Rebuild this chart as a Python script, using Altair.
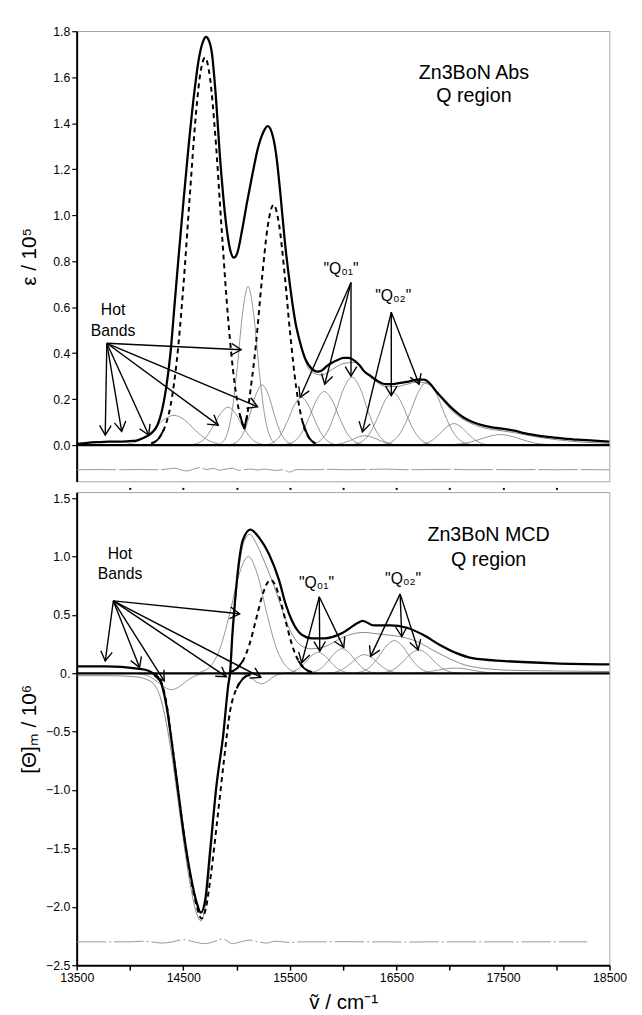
import math
import altair as alt
import pandas as pd

# ---------------- axes / layout values ----------------
X_DOMAIN = [13500, 18500]
ABS_Y_DOMAIN = [-0.158, 1.8]
MCD_Y_DOMAIN = [-2.5, 1.55]
PLOT_W = 542
ABS_H = 458
MCD_H = 481
X_TICKS = [13500, 14000, 14500, 15000, 15500, 16000, 16500, 17000, 17500, 18000, 18500]
TOP_X_TICKS = [14000, 14500, 15000, 15500, 16000, 16500, 17000, 17500, 18000]
ABS_Y_TICKS = [0.0, 0.2, 0.4, 0.6, 0.8, 1.0, 1.2, 1.4, 1.6, 1.8]
MCD_Y_TICKS = [-2.5, -2.0, -1.5, -1.0, -0.5, 0.0, 0.5, 1.0, 1.5]

# ---------------- Absorption panel data ----------------
ABS_SPEC_X = [13500, 13600, 13700, 13800, 13900, 14000, 14060, 14120, 14180, 14220, 14260, 14300, 14340,
              14380, 14420, 14460, 14500, 14550, 14600, 14650, 14690, 14713, 14740, 14770, 14800, 14850,
              14900, 14940, 14975, 15010, 15050, 15100, 15150, 15200, 15250, 15292, 15330, 15370, 15410,
              15450, 15500, 15550, 15600, 15650, 15700, 15760, 15800, 15850, 15900, 15950, 16000, 16050,
              16100, 16150, 16200, 16260, 16320, 16400, 16460, 16520, 16600, 16700, 16760, 16820, 16880,
              16940, 17000, 17060, 17130, 17220, 17320, 17430, 17550, 17620, 17700, 17800, 17900, 18050,
              18200, 18350, 18500]
ABS_SPEC_Y = [0.005, 0.01, 0.013, 0.015, 0.015, 0.018, 0.02, 0.03, 0.045, 0.06, 0.09, 0.15, 0.25,
              0.40, 0.62, 0.84, 1.05, 1.30, 1.52, 1.69, 1.76, 1.775, 1.76, 1.70, 1.55, 1.22,
              0.97, 0.85, 0.815, 0.84, 0.93, 1.06, 1.18, 1.29, 1.36, 1.387, 1.36, 1.27, 1.10,
              0.90, 0.70, 0.54, 0.44, 0.37, 0.335, 0.32, 0.325, 0.345, 0.36, 0.37, 0.38, 0.38,
              0.37, 0.35, 0.32, 0.30, 0.28, 0.265, 0.265, 0.27, 0.275, 0.285, 0.285, 0.265, 0.23,
              0.20, 0.17, 0.145, 0.12, 0.10, 0.085, 0.075, 0.068, 0.062, 0.052, 0.044, 0.037, 0.03,
              0.024, 0.02, 0.015]

ABS_FIT_X = [15600, 15700, 15800, 15900, 16000, 16100, 16200, 16300, 16400, 16500, 16600, 16700, 16800,
             16900, 17000, 17100, 17200, 17300, 17400, 17500, 17600, 17700, 17800, 17900, 18000, 18100,
             18200, 18300, 18400, 18500]
ABS_FIT_Y = [0.43, 0.32, 0.305, 0.33, 0.355, 0.36, 0.32, 0.28, 0.255, 0.255, 0.265, 0.275, 0.265,
             0.215, 0.16, 0.12, 0.095, 0.078, 0.068, 0.062, 0.055, 0.046, 0.037, 0.03, 0.024, 0.019,
             0.015, 0.012, 0.01, 0.008]

ABS_DASH1_X = [14200, 14260, 14320, 14380, 14440, 14500, 14560, 14620, 14660, 14704, 14750, 14800, 14860,
               14920, 14980, 15030, 15072]
ABS_DASH1_Y = [0.008, 0.024, 0.07, 0.17, 0.37, 0.685, 1.075, 1.446, 1.615, 1.685, 1.60, 1.35, 0.94,
               0.555, 0.275, 0.134, 0.07]
ABS_DASH2_X = [15072, 15100, 15120, 15180, 15240, 15290, 15347, 15400, 15450, 15500, 15560, 15620, 15680,
               15740]
ABS_DASH2_Y = [0.07, 0.13, 0.2, 0.43, 0.73, 0.944, 1.045, 0.956, 0.75, 0.50, 0.25, 0.10, 0.032, 0.008]

ABS_A_X = [13906, 14007, 14109, 14214, 14312, 14413, 14514, 14612, 14717, 14819, 14920]
ABS_A_Y = [0.001, 0.007, 0.026, 0.065, 0.109, 0.13, 0.109, 0.065, 0.026, 0.007, 0.001]
ABS_B_X = [14569, 14639, 14709, 14782, 14850, 14920, 14990, 15058, 15131, 15201, 15271]
ABS_B_Y = [0.002, 0.009, 0.033, 0.083, 0.138, 0.165, 0.138, 0.083, 0.033, 0.009, 0.002]
ABS_C_X = [14853, 14904, 14955, 15008, 15057, 15108, 15159, 15208, 15261, 15312, 15363]
ABS_C_Y = [0.008, 0.039, 0.138, 0.345, 0.576, 0.69, 0.576, 0.345, 0.138, 0.039, 0.008]
ABS_D_X = [14946, 15005, 15064, 15124, 15181, 15240, 15299, 15356, 15416, 15475, 15534]
ABS_D_Y = [0.003, 0.015, 0.052, 0.131, 0.219, 0.262, 0.219, 0.131, 0.052, 0.015, 0.003]
ABS_E_X = [15278, 15344, 15410, 15478, 15542, 15608, 15674, 15738, 15806, 15872, 15938]
ABS_E_Y = [0.002, 0.012, 0.042, 0.104, 0.174, 0.208, 0.174, 0.104, 0.042, 0.012, 0.002]
ABS_F_X = [15454, 15528, 15602, 15678, 15749, 15823, 15897, 15968, 16044, 16118, 16192]
ABS_F_Y = [0.003, 0.013, 0.047, 0.117, 0.195, 0.233, 0.195, 0.117, 0.047, 0.013, 0.003]
ABS_G_X = [15699, 15776, 15853, 15932, 16006, 16083, 16160, 16234, 16313, 16390, 16467]
ABS_G_Y = [0.003, 0.017, 0.059, 0.148, 0.247, 0.296, 0.247, 0.148, 0.059, 0.017, 0.003]
ABS_H_X = [15845, 15917, 15989, 16063, 16133, 16205, 16277, 16347, 16421, 16493, 16565]
ABS_H_Y = [0.0005, 0.002, 0.008, 0.02, 0.034, 0.041, 0.034, 0.02, 0.008, 0.002, 0.0005]
ABS_I_X = [16093, 16167, 16242, 16319, 16391, 16465, 16539, 16611, 16688, 16763, 16837]
ABS_I_Y = [0.003, 0.013, 0.046, 0.115, 0.192, 0.23, 0.192, 0.115, 0.046, 0.013, 0.003]
ABS_J_X = [16376, 16458, 16540, 16625, 16705, 16787, 16869, 16949, 17034, 17116, 17198]
ABS_J_Y = [0.003, 0.015, 0.055, 0.138, 0.23, 0.275, 0.23, 0.138, 0.055, 0.015, 0.003]
ABS_K_X = [16688, 16758, 16828, 16901, 16969, 17039, 17109, 17177, 17250, 17320, 17390]
ABS_K_Y = [0.001, 0.005, 0.019, 0.047, 0.078, 0.094, 0.078, 0.047, 0.019, 0.005, 0.001]
ABS_L_X = [16937, 17045, 17153, 17265, 17369, 17477, 17585, 17689, 17801, 17909, 18017]
ABS_L_Y = [0.0005, 0.003, 0.009, 0.023, 0.038, 0.046, 0.038, 0.023, 0.009, 0.003, 0.0005]

ABS_RES_X = [13500, 13700, 13900, 14100, 14250, 14350, 14420, 14480, 14540, 14600, 14660, 14720, 14780,
             14840, 14900, 14960, 15020, 15080, 15140, 15200, 15260, 15320, 15380, 15440, 15500, 15560,
             15700, 15800, 15900, 16000, 16200, 16400, 16600, 16800, 17000, 17200, 17400, 17600, 17800,
             18000, 18200, 18400, 18500]
ABS_RES_Y = [-0.107, -0.106, -0.107, -0.106, -0.107, -0.104, -0.100, -0.108, -0.112, -0.103, -0.098,
             -0.106, -0.101, -0.109, -0.104, -0.100, -0.109, -0.106, -0.104, -0.108, -0.104, -0.107,
             -0.110, -0.106, -0.117, -0.106, -0.107, -0.106, -0.105, -0.107, -0.106, -0.104, -0.107,
             -0.106, -0.105, -0.107, -0.106, -0.107, -0.106, -0.107, -0.106, -0.107, -0.107]

# arrows (start point, end points)
ABS_HOT_START = (13783, 0.443)
ABS_HOT_END_X = [13768, 13922, 14176, 14828, 15197, 15043]
ABS_HOT_END_Y = [0.044, 0.06, 0.044, 0.087, 0.167, 0.415]
ABS_Q01_START = (16074, 0.707)
ABS_Q01_END_X = [15597, 15827, 16074]
ABS_Q01_END_Y = [0.208, 0.265, 0.30]
ABS_Q02_START = (16452, 0.578)
ABS_Q02_END_X = [16181, 16452, 16713]
ABS_Q02_END_Y = [0.058, 0.215, 0.265]

ABS_TEXT = ["Hot", "Bands", "\"Q\u2080\u2081\"", "\"Q\u2080\u2082\"", "Zn3BoN Abs", "Q region"]
ABS_TEXT_X = [13841, 13841, 15981, 16470, 17227, 17227]
ABS_TEXT_Y = [0.586, 0.496, 0.765, 0.65, 1.62, 1.52]
ABS_TEXT_SIZE = [16, 16, 16, 16, 20, 20]

# ---------------- MCD panel data ----------------
MCD_SPEC_X = [13500, 13768, 14072, 14180, 14229, 14260, 14291, 14321, 14352, 14383, 14444, 14506, 14567,
              14628, 14665, 14706, 14752, 14813, 14875, 14921, 14942, 14960, 14975, 15013, 15059, 15130,
              15213, 15305, 15398, 15458, 15520, 15612, 15705, 15827, 15981, 16136, 16182, 16289, 16443,
              16597, 16750, 16904, 17058, 17211, 17519, 17980, 18500]
MCD_SPEC_Y = [0.06, 0.06, 0.04, 0.02, -0.01, -0.04, -0.08, -0.18, -0.33, -0.53, -0.95, -1.38, -1.72,
              -1.97, -2.05, -1.94, -1.52, -0.95, -0.53, -0.11, 0.03, 0.32, 0.50, 0.88, 1.14, 1.23,
              1.16, 1.02, 0.80, 0.60, 0.45, 0.33, 0.30, 0.30, 0.34, 0.43, 0.45, 0.41, 0.41,
              0.39, 0.33, 0.245, 0.175, 0.13, 0.105, 0.085, 0.076]

MCD_FIT_X = [13500, 13800, 14050, 14150, 14230, 14290, 14340, 14400, 14460, 14520, 14580, 14630, 14665,
             14700, 14750, 14800, 14860, 14905, 14935, 14960, 14990, 15030, 15080, 15125, 15180, 15250,
             15330, 15400, 15460, 15530, 15600, 15700, 15800, 15900, 16000, 16100, 16200, 16300, 16400,
             16500, 16600, 16700, 16800, 16900, 17000, 17100, 17250, 17400, 17600, 18000, 18500]
MCD_FIT_Y = [-0.02, -0.02, -0.03, -0.05, -0.10, -0.22, -0.42, -0.75, -1.15, -1.55, -1.88, -2.07, -2.12,
             -2.03, -1.62, -1.08, -0.62, -0.25, 0.0, 0.30, 0.62, 0.95, 1.15, 1.19, 1.12, 0.98,
             0.80, 0.62, 0.46, 0.32, 0.24, 0.21, 0.22, 0.26, 0.31, 0.34, 0.35, 0.34, 0.33,
             0.32, 0.30, 0.27, 0.22, 0.17, 0.125, 0.085, 0.05, 0.035, 0.025, 0.02, 0.015]

MCD_DASH1_X = [14230, 14260, 14291, 14321, 14352, 14383, 14444, 14506, 14567, 14628, 14670, 14710, 14760,
               14820, 14880, 14940, 15000, 15060, 15130]
MCD_DASH1_Y = [-0.01, -0.03, -0.07, -0.16, -0.31, -0.52, -0.95, -1.38, -1.74, -2.0, -2.1, -2.02, -1.72,
               -1.25, -0.76, -0.32, -0.13, -0.045, -0.01]
MCD_DASH2_X = [14930, 15000, 15060, 15120, 15180, 15240, 15280, 15320, 15360, 15400, 15460, 15520, 15580,
               15640, 15710]
MCD_DASH2_Y = [0.009, 0.039, 0.108, 0.245, 0.45, 0.66, 0.76, 0.80, 0.76, 0.66, 0.45, 0.245, 0.108,
               0.039, 0.009]

MCD_B_X = [14660, 14750, 14840, 14933, 15020, 15110, 15200, 15287, 15380, 15470, 15560]
MCD_B_Y = [0.011, 0.056, 0.20, 0.50, 0.835, 1.0, 0.835, 0.50, 0.20, 0.056, 0.011]
MCD_C_X = [14045, 14114, 14183, 14254, 14321, 14390, 14459, 14526, 14597, 14666, 14735]
MCD_C_Y = [-0.0015, -0.008, -0.028, -0.07, -0.117, -0.14, -0.117, -0.07, -0.028, -0.008, -0.0015]
MCD_D_X = [15010, 15055, 15100, 15146, 15190, 15235, 15280, 15324, 15370, 15415, 15460]
MCD_D_Y = [-0.001, -0.005, -0.018, -0.045, -0.075, -0.09, -0.075, -0.045, -0.018, -0.005, -0.001]
MCD_E_X = [15451, 15514, 15577, 15642, 15703, 15766, 15829, 15890, 15955, 16018, 16081]
MCD_E_Y = [0.002, 0.01, 0.036, 0.09, 0.15, 0.18, 0.15, 0.09, 0.036, 0.01, 0.002]
MCD_F_X = [15660, 15726, 15792, 15860, 15924, 15990, 16056, 16120, 16188, 16254, 16320]
MCD_F_Y = [0.002, 0.012, 0.042, 0.105, 0.175, 0.21, 0.175, 0.105, 0.042, 0.012, 0.002]
MCD_G_X = [15855, 15924, 15993, 16064, 16131, 16200, 16269, 16336, 16407, 16476, 16545]
MCD_G_Y = [0.002, 0.009, 0.032, 0.08, 0.134, 0.16, 0.134, 0.08, 0.032, 0.009, 0.002]
MCD_H_X = [16105, 16180, 16255, 16332, 16405, 16480, 16555, 16628, 16705, 16780, 16855]
MCD_H_Y = [0.003, 0.016, 0.056, 0.14, 0.234, 0.28, 0.234, 0.14, 0.056, 0.016, 0.003]
MCD_I_X = [16335, 16410, 16485, 16562, 16635, 16710, 16785, 16858, 16935, 17010, 17085]
MCD_I_Y = [0.002, 0.011, 0.04, 0.10, 0.167, 0.20, 0.167, 0.10, 0.04, 0.011, 0.002]
MCD_J_X = [16570, 16666, 16762, 16861, 16954, 17050, 17146, 17239, 17338, 17434, 17530]
MCD_J_Y = [0.0005, 0.0025, 0.009, 0.0225, 0.0375, 0.045, 0.0375, 0.0225, 0.009, 0.0025, 0.0005]

MCD_RES_X = [13500, 13800, 14000, 14100, 14200, 14300, 14400, 14500, 14600, 14700, 14800, 14870, 14960,
             15040, 15120, 15200, 15280, 15360, 15440, 15520, 15600, 15800, 16000, 16200, 16400, 16600,
             16800, 17000, 17200, 17400, 17600, 17800, 18000, 18290]
MCD_RES_Y = [-2.30, -2.30, -2.30, -2.295, -2.30, -2.31, -2.30, -2.28, -2.30, -2.315, -2.295, -2.275,
             -2.315, -2.30, -2.285, -2.30, -2.31, -2.295, -2.30, -2.305, -2.30, -2.30, -2.298, -2.30,
             -2.30, -2.302, -2.30, -2.30, -2.30, -2.30, -2.30, -2.30, -2.30, -2.30]

MCD_HOT_START = (13844, 0.62)
MCD_HOT_END_X = [13768, 14090, 14321, 14905, 15228, 15029]
MCD_HOT_END_Y = [0.105, 0.05, -0.065, -0.03, -0.035, 0.51]
MCD_Q01_START = (15776, 0.655)
MCD_Q01_END_X = [15612, 15781, 16006]
MCD_Q01_END_Y = [0.09, 0.19, 0.22]
MCD_Q02_START = (16535, 0.68)
MCD_Q02_END_X = [16258, 16550, 16704]
MCD_Q02_END_Y = [0.145, 0.315, 0.20]

MCD_TEXT = ["Hot", "Bands", "\"Q\u2080\u2081\"", "\"Q\u2080\u2082\"", "Zn3BoN MCD", "Q region"]
MCD_TEXT_X = [13906, 13906, 15751, 16563, 17365, 17365]
MCD_TEXT_Y = [1.02, 0.85, 0.77, 0.81, 1.18, 0.97]
MCD_TEXT_SIZE = [16, 16, 16, 16, 20, 20]

FONT = "Liberation Sans"
GRAY = "#7a7a7a"
ARROW_PATH = "M -1 -0.6 L 0 0 L -1 0.6"


# ---------------- helpers ----------------
def curve(xs, ys, name="c"):
    return pd.DataFrame({"x": xs, "y": ys, "band": name})


def bands(pairs):
    return pd.concat([curve(xs, ys, n) for n, xs, ys in pairs], ignore_index=True)


def tails(pairs, thr):
    frames = []
    for n, xs, ys in pairs:
        pk = max(range(len(ys)), key=lambda i: abs(ys[i]))
        for side, idx in (("L", range(0, pk + 1)), ("R", range(pk, len(ys)))):
            pts = [(xs[i], ys[i]) for i in idx if abs(ys[i]) <= thr]
            if len(pts) >= 2:
                frames.append(pd.DataFrame({"x": [p[0] for p in pts], "y": [p[1] for p in pts],
                                            "band": n + side}))
    return pd.concat(frames, ignore_index=True)


def arrows(groups, ydom, h):
    sx = PLOT_W / (X_DOMAIN[1] - X_DOMAIN[0])
    sy = h / (ydom[1] - ydom[0])
    rows = []
    for (x1, y1), ex, ey in groups:
        for x2, y2 in zip(ex, ey):
            ang = math.degrees(math.atan2(-(y2 - y1) * sy, (x2 - x1) * sx)) % 360
            rows.append({"x": x1, "y": y1, "x2": x2, "y2": y2, "ang": ang})
    return pd.DataFrame(rows)


def panel(spec, fit, dashes, comps, res, arr, texts, ydom, h, x_axis, y_axis, res_dash):
    X = alt.X("x:Q", scale=alt.Scale(domain=X_DOMAIN, nice=False, zero=False), axis=x_axis)
    Y = alt.Y("y:Q", scale=alt.Scale(domain=ydom, nice=False, zero=False), axis=y_axis)
    layers = []
    layers.append(alt.Chart(comps).mark_line(color=GRAY, strokeWidth=0.8, interpolate="monotone", clip=True)
                  .encode(x=X, y=Y, detail="band:N", order="x:Q"))
    layers.append(alt.Chart(fit).mark_line(color=GRAY, strokeWidth=0.9, interpolate="monotone", clip=True)
                  .encode(x=X, y=Y, order="x:Q"))
    layers.append(alt.Chart(res).mark_line(color="#8a8a8a", strokeWidth=0.9, interpolate="monotone",
                                           strokeDash=res_dash, clip=True)
                  .encode(x=X, y=Y, order="x:Q"))
    layers.append(alt.Chart(bands(dashes)).mark_line(color="black", strokeWidth=2.0, strokeDash=[5, 4],
                                                     interpolate="monotone", clip=True)
                  .encode(x=X, y=Y, detail="band:N", order="x:Q"))
    layers.append(alt.Chart(tails(dashes, 0.15)).mark_line(color="black", strokeWidth=2.0,
                                                           interpolate="monotone", clip=True)
                  .encode(x=X, y=Y, detail="band:N", order="x:Q"))
    layers.append(alt.Chart(spec).mark_line(color="black", strokeWidth=2.3, interpolate="monotone", clip=True)
                  .encode(x=X, y=Y, order="x:Q"))
    layers.append(alt.Chart(pd.DataFrame({"y": [0.0]})).mark_rule(color="black", strokeWidth=2.3)
                  .encode(y=Y))
    layers.append(alt.Chart(arr).mark_rule(color="black", strokeWidth=1.4)
                  .encode(x=X, y=Y, x2="x2:Q", y2="y2:Q"))
    heads = arr[["x2", "y2", "ang"]].rename(columns={"x2": "x", "y2": "y"})
    layers.append(alt.Chart(heads).mark_point(shape=ARROW_PATH, size=380, filled=False, strokeWidth=1.4,
                                              color="black", opacity=1)
                  .encode(x=X, y=Y, angle=alt.Angle("ang:Q", scale=None)))
    layers.append(alt.Chart(texts).mark_text(color="black", font=FONT, align="center", baseline="middle")
                  .encode(x=X, y=Y, text="t:N", size=alt.Size("fs:Q", scale=None)))
    return alt.layer(*layers).properties(width=PLOT_W, height=h)


# ---------------- build panels ----------------
abs_comps = bands([("a", ABS_A_X, ABS_A_Y), ("b", ABS_B_X, ABS_B_Y), ("c", ABS_C_X, ABS_C_Y),
                   ("d", ABS_D_X, ABS_D_Y), ("e", ABS_E_X, ABS_E_Y), ("f", ABS_F_X, ABS_F_Y),
                   ("g", ABS_G_X, ABS_G_Y), ("h", ABS_H_X, ABS_H_Y), ("i", ABS_I_X, ABS_I_Y),
                   ("j", ABS_J_X, ABS_J_Y), ("k", ABS_K_X, ABS_K_Y), ("l", ABS_L_X, ABS_L_Y)])
abs_arr = arrows([(ABS_HOT_START, ABS_HOT_END_X, ABS_HOT_END_Y),
                  (ABS_Q01_START, ABS_Q01_END_X, ABS_Q01_END_Y),
                  (ABS_Q02_START, ABS_Q02_END_X, ABS_Q02_END_Y)], ABS_Y_DOMAIN, ABS_H)
abs_text = pd.DataFrame({"x": ABS_TEXT_X, "y": ABS_TEXT_Y, "t": ABS_TEXT, "fs": ABS_TEXT_SIZE})

top_x_axis = alt.Axis(values=TOP_X_TICKS, labels=False, title=None, domain=False, ticks=True,
                      tickSize=2, tickWidth=2, tickColor="black", offset=6, grid=False)
top_y_axis = alt.Axis(values=ABS_Y_TICKS, format=".1f", title="\u03b5 / 10\u2075", grid=False,
                      domainColor="black", domainWidth=2, tickColor="black", tickWidth=1.2, tickSize=5,
                      labelFontSize=12.5, labelColor="black", labelPadding=2, labelFlush=False,
                      titleFontSize=21, titleFontWeight="normal", titleColor="black", titlePadding=8,
                      minExtent=30, maxExtent=30)

top = panel(curve(ABS_SPEC_X, ABS_SPEC_Y), curve(ABS_FIT_X, ABS_FIT_Y),
            [("p1", ABS_DASH1_X, ABS_DASH1_Y), ("p2", ABS_DASH2_X, ABS_DASH2_Y)],
            abs_comps, curve(ABS_RES_X, ABS_RES_Y), abs_arr, abs_text, ABS_Y_DOMAIN, ABS_H,
            top_x_axis, top_y_axis, [40, 3])

mcd_comps = bands([("B", MCD_B_X, MCD_B_Y), ("C", MCD_C_X, MCD_C_Y), ("D", MCD_D_X, MCD_D_Y),
                   ("E", MCD_E_X, MCD_E_Y), ("F", MCD_F_X, MCD_F_Y), ("G", MCD_G_X, MCD_G_Y),
                   ("H", MCD_H_X, MCD_H_Y), ("I", MCD_I_X, MCD_I_Y), ("J", MCD_J_X, MCD_J_Y)])
mcd_arr = arrows([(MCD_HOT_START, MCD_HOT_END_X, MCD_HOT_END_Y),
                  (MCD_Q01_START, MCD_Q01_END_X, MCD_Q01_END_Y),
                  (MCD_Q02_START, MCD_Q02_END_X, MCD_Q02_END_Y)], MCD_Y_DOMAIN, MCD_H)
mcd_text = pd.DataFrame({"x": MCD_TEXT_X, "y": MCD_TEXT_Y, "t": MCD_TEXT, "fs": MCD_TEXT_SIZE})

bot_x_axis = alt.Axis(values=X_TICKS, format="d",
                      labelExpr="datum.value % 1000 == 500 ? datum.label : ''",
                      title="\u1e7d / cm\u207b\u00b9", grid=False, domainColor="black", domainWidth=2,
                      tickColor="black", tickWidth=1.5, tickSize=5, labelFontSize=12.5, labelColor="black",
                      labelPadding=2, labelFlush=False, labelOverlap=False, titleFontSize=21,
                      titleFontWeight="normal", titleColor="black", titlePadding=8)
bot_y_axis = alt.Axis(values=MCD_Y_TICKS,
                      labelExpr="datum.value == 0 ? '0.' : format(datum.value, '.1f')",
                      title="[\u0398]\u2098 / 10\u2076", grid=False, domainColor="black", domainWidth=2,
                      tickColor="black", tickWidth=1.2, tickSize=5, labelFontSize=12.5, labelColor="black",
                      labelPadding=2, labelFlush=False, labelOverlap=False, titleFontSize=21,
                      titleFontWeight="normal", titleColor="black", titlePadding=8,
                      minExtent=30, maxExtent=30)

bottom = panel(curve(MCD_SPEC_X, MCD_SPEC_Y), curve(MCD_FIT_X, MCD_FIT_Y),
               [("n1", MCD_DASH1_X, MCD_DASH1_Y), ("p2", MCD_DASH2_X, MCD_DASH2_Y)],
               mcd_comps, curve(MCD_RES_X, MCD_RES_Y), mcd_arr, mcd_text, MCD_Y_DOMAIN, MCD_H,
               bot_x_axis, bot_y_axis, [30, 3, 2, 3])

chart = (alt.vconcat(top, bottom, spacing=0)
         .properties(padding={"left": 18, "top": 16, "right": 15, "bottom": 0})
         .configure(font=FONT)
         .configure_view(stroke="#8c8c8c", strokeWidth=0.8))

chart.save("out.html", embed_options={"renderer": "svg", "actions": False})
